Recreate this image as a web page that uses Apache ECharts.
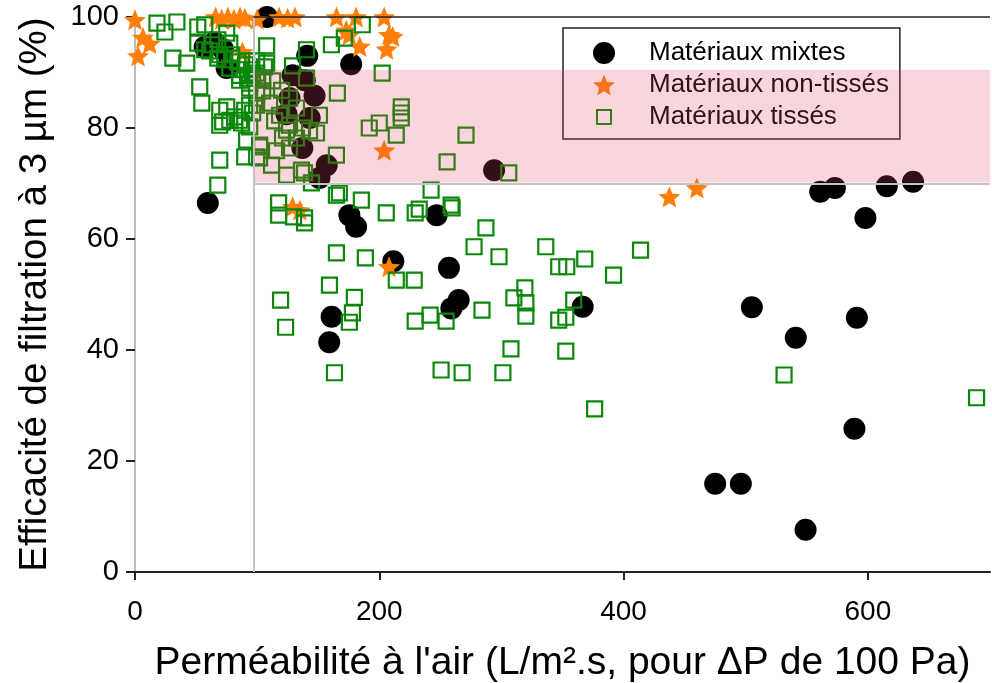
<!DOCTYPE html>
<html>
<head>
<meta charset="utf-8">
<script src="https://cdn.jsdelivr.net/npm/echarts@6/dist/echarts.min.js"></script>
<style>html,body{margin:0;padding:0;background:#fff}#c{width:992px;height:683px}</style>
</head>
<body>
<div id="c"></div>
<script>
// ---- data ----
const seriesNames = ['Matériaux mixtes', 'Matériaux non-tissés', 'Matériaux tissés'];
const xTicks = [0, 200, 400, 600];
const yTicks = [0, 20, 40, 60, 80, 100];
const bandX = [97, 700];
const bandY = [70, 90.5];
const refX = 97;

const mixtes = [[108,100],[59.6,66.5],[57,94.6],[65,95.4],[72,94.2],[75,90.8],[141,93],[177,91.5],[129,89.5],[139,88.6],[147,85.8],[126.5,85.4],[124,82.5],[143,81.8],[137,76.4],[157,73.3],[151,71],[175.5,64.3],[181,62.2],[211.5,56],[161,46],[159,41.4],[247,64.3],[257,54.8],[259,47.5],[265,49],[294,72.4],[366.5,47.8],[561,68.5],[573,69.2],[615.5,69.5],[637,70.3],[598,63.8],[505,47.7],[541,42.2],[591,45.8],[589,25.8],[475,15.9],[496,15.9],[549,7.6]];

const nonTisses = [[0,99.5],[6.5,96.3],[12,95.2],[2.5,93],[66,100],[71,99.6],[76,100],[81,99.6],[86,100],[90,99.8],[88,93.7],[100,99.6],[118,100],[125,99.8],[131,100],[165,100],[181,100],[173,97.6],[175.5,96.8],[184,94.7],[204,100],[208,96.8],[211,96.5],[206,94.2],[204,76],[129,65.8],[135,65.2],[208,55],[437.5,67.6],[460,69.2]];

const tisses = [[18,98.9],[24.5,97.3],[34.3,99.1],[31,92.6],[42.4,91.7],[51.4,98.2],[57.1,98.6],[51.4,95.3],[57.1,94.1],[62.9,95],[67.8,95.9],[69.4,93.2],[75.1,97.1],[77.6,95.3],[73.5,92.3],[79.2,93.2],[84.1,91.9],[85.7,90.5],[90.6,91.4],[85.7,88.6],[92.2,89],[95.5,90.5],[53,87.4],[54.7,84.5],[69.4,83.2],[75.1,83.8],[71.8,81.1],[81.6,82],[69.4,80.5],[69.4,74.2],[67.8,69.7],[91.4,77.8],[89.8,74.8],[99.6,74.8],[102,76.6],[93.9,80.2],[96.3,82.7],[99.6,86.3],[93.9,88.1],[99.6,89.9],[106,91],[104.5,88.6],[89.8,83.2],[85.7,81.4],[77.6,81.4],[85.7,89.5],[91.4,92.1],[67.8,92.6],[61.2,93.9],[77.6,90.8],[93.9,87.2],[93.9,84.1],[87.3,80.9],
[107.8,94.8],[140.4,94.1],[129,91.2],[99.6,92.1],[107.8,91.7],[96.3,89.5],[104.5,89],[112.7,88.5],[140.4,89],[120,86.8],[104.5,86.7],[126.5,85.4],[99.6,84.1],[110.2,84.5],[118.4,82.3],[132.2,83.6],[151,82.3],[114.3,81.3],[126.5,80.5],[137.1,80],[148.6,79.1],[142.9,79.5],[120.8,78.2],[132.2,78.2],[102,76.9],[115.9,75.9],[126.5,76.4],[102,74.6],[111.8,73.3],[124.1,71.5],[138.8,71.9],[144.5,70.1],[165.7,86.3],[164.9,75.1],[202.4,89.9],[191.8,80],[200,80.9],[213.9,78.7],[218,83.8],[218,82.7],[218,81.8],[271,78.7],[255.5,73.9],[306,71.9],[160.8,95],[171.4,96.2],[186.1,98.6],[136.3,72.4],[124.1,79.6],
[242.4,68.8],[117.6,66.5],[117.6,64.3],[129.8,64],[138.8,63.8],[138.8,62.9],[164.9,67.9],[167.3,68.3],[185.3,67],[205.7,64.7],[229.4,64.7],[232.7,65.4],[258.8,66.1],[259.6,65.6],[287.3,62],[277.6,58.6],[298,56.8],[336.3,58.6],[346.9,55],[353.5,55],[368.2,56.4],[413.9,58],[391.8,53.5],[164.9,57.5],[188.6,56.6],[213.9,52.6],[228.6,52.6],[159.2,51.7],[179.6,49.5],[119.2,49],[178,46.7],[175.5,45],[123.3,44.1],[229.4,45.2],[241.6,46.3],[254.7,45.2],[284.1,47.2],[310.2,49.4],[319.2,51.2],[320,48.5],[320,46.1],[359.2,49],[346.9,45.4],[352.7,45.9],[307.8,40.2],[352.7,39.8],[250.6,36.4],[267.8,35.9],[301.2,35.9],[376.3,29.4],[531.4,35.5],[689,31.4],[163.3,35.9]];

// ---- chart ----
const FONT = '"Liberation Sans", Arial, sans-serif';
const STAR = 'path://M50,0 L63.2,31.8 L97.55,34.55 L71.4,56.95 L79.4,90.45 L50,72.5 L20.6,90.45 L28.6,56.95 L2.45,34.55 L36.8,31.8 Z';
const SQUARE_ICON = 'path://M0,0 M22,22 M4,4 L18,4 L18,18 L4,18 Z';
const chart = echarts.init(document.getElementById('c'), null, {renderer: 'canvas'});

chart.setOption({
  animation: false,
  backgroundColor: '#fff',
  textStyle: {fontFamily: FONT},
  grid: {left: 135, right: 2, top: 17, bottom: 111, containLabel: false, outerBoundsMode: 'none'},
  xAxis: {
    type: 'value', min: 0, max: 700, interval: 200,
    name: "Perméabilité à l'air (L/m².s, pour ΔP de 100 Pa)",
    nameLocation: 'middle', nameGap: 72,
    nameTextStyle: {fontSize: 39, color: '#000', fontFamily: FONT},
    axisLine: {lineStyle: {color: '#222', width: 2}},
    axisTick: {show: true, length: 8, lineStyle: {color: '#222', width: 2}, customValues: xTicks},
    axisLabel: {fontSize: 28, color: '#000', margin: 26, fontFamily: FONT, customValues: xTicks},
    splitLine: {show: false}
  },
  yAxis: {
    type: 'value', min: 0, max: 100, interval: 20,
    name: 'Efficacité de filtration à 3 µm (%)',
    nameLocation: 'middle', nameGap: 80,
    nameTextStyle: {fontSize: 38.5, color: '#000', fontFamily: FONT},
    axisLine: {lineStyle: {color: '#bdbdbd', width: 2}},
    axisTick: {show: true, length: 9, lineStyle: {color: '#222', width: 2}, customValues: yTicks},
    axisLabel: {fontSize: 29, color: '#000', margin: 16, fontFamily: FONT, customValues: yTicks},
    splitLine: {show: false}
  },
  legend: {
    z: 3,
    orient: 'vertical',
    left: 563, top: 28,
    padding: [12, 11, 9, 29],
    itemGap: 6,
    itemWidth: 22, itemHeight: 22,
    borderColor: '#222', borderWidth: 1.5,
    textStyle: {fontSize: 26, color: '#000', fontFamily: FONT, padding: [0, 0, 0, 29]},
    data: [
      {name: seriesNames[0], icon: 'circle'},
      {name: seriesNames[1], icon: STAR},
      {name: seriesNames[2], icon: SQUARE_ICON}
    ]
  },
  series: [
    {
      name: 'refLines', type: 'scatter', data: [], z: 1, silent: true,
      markLine: {
        silent: true, symbol: 'none', animation: false,
        label: {show: false},
        data: [
          [{coord: [refX, 0], lineStyle: {color: '#c4c4c4', width: 2, type: 'solid'}}, {coord: [refX, 100]}],
          [{coord: [bandX[0], bandY[0]], lineStyle: {color: '#c4c4c4', width: 2, type: 'solid'}}, {coord: [bandX[1], bandY[0]]}],
          [{coord: [bandX[0], 100], lineStyle: {color: '#222', width: 1.5, type: 'solid'}}, {coord: [bandX[1], 100]}]
        ]
      }
    },
    {
      name: seriesNames[0], type: 'scatter', data: mixtes, clip: false,
      symbol: 'circle', symbolSize: 22, z: 2,
      itemStyle: {color: '#000', opacity: 1}
    },
    {
      name: seriesNames[1], type: 'scatter', data: nonTisses, clip: false,
      symbol: STAR, symbolSize: 22, symbolKeepAspect: true, z: 2,
      itemStyle: {color: '#ff7f0a', opacity: 1}
    },
    {
      name: seriesNames[2], type: 'scatter', data: tisses, clip: false,
      symbol: 'rect', symbolSize: 15, z: 2,
      itemStyle: {color: 'rgba(0,0,0,0)', borderColor: '#0b870b', borderWidth: 2.2, opacity: 1}
    }
  ]
});

// translucent band drawn above everything (markers and legend), placed through the axes' scales
const p0 = chart.convertToPixel({gridIndex: 0}, [bandX[0], bandY[1]]);
const p1 = chart.convertToPixel({gridIndex: 0}, [bandX[1], bandY[0]]);
chart.setOption({
  graphic: [{
    type: 'rect', z: 100, silent: true,
    shape: {x: p0[0] + 1, y: p0[1], width: p1[0] - p0[0] - 1, height: p1[1] - p0[1] - 1},
    style: {fill: 'rgba(227,71,93,0.225)'}
  }]
});
</script>
</body>
</html>
